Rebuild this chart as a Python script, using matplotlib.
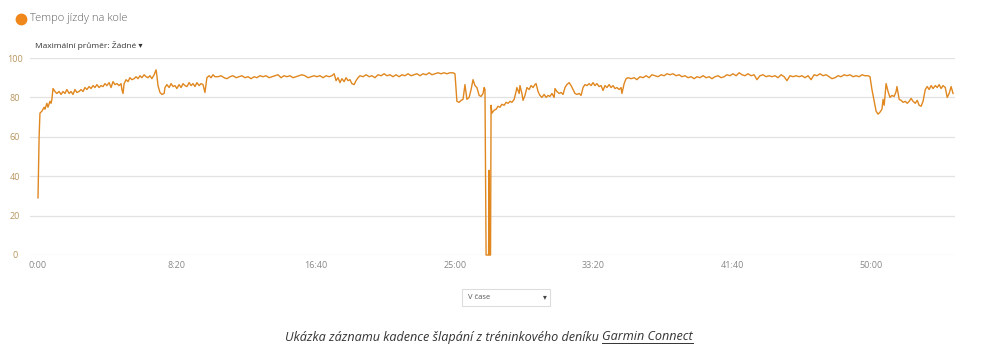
import matplotlib
matplotlib.use("Agg")
import matplotlib.pyplot as plt
from matplotlib.lines import Line2D
from matplotlib.patches import Rectangle

# ---- data (elapsed seconds, cadence rpm) ----
time_s = [
    0, 4, 7, 14, 22, 25, 32, 36, 43, 47, 50, 54, 61, 68, 76, 83, 90, 97, 104, 112,
    119, 126, 133, 140, 148, 155, 162, 169, 176, 184, 191, 198, 205, 212, 220, 227,
    234, 241, 248, 256, 263, 270, 277, 284, 292, 299, 302, 306, 310, 317, 324, 331,
    338, 346, 353, 360, 367, 374, 382, 389, 396, 403, 410, 418, 425, 428, 432, 439,
    446, 454, 457, 464, 472, 479, 486, 493, 500, 508, 515, 522, 529, 536, 544, 551,
    558, 565, 572, 580, 587, 594, 601, 608, 616, 623, 630, 637, 648, 659, 670, 680,
    691, 702, 713, 724, 734, 745, 756, 767, 778, 788, 799, 810, 821, 832, 842, 853,
    864, 875, 886, 896, 907, 918, 929, 940, 950, 961, 972, 983, 994, 1004, 1015, 1026,
    1037, 1048, 1058, 1066, 1073, 1080, 1087, 1094, 1102, 1109, 1116, 1123, 1130, 1138,
    1145, 1152, 1159, 1170, 1181, 1192, 1202, 1213, 1224, 1235, 1246, 1256, 1267, 1278,
    1289, 1300, 1310, 1321, 1332, 1343, 1354, 1364, 1375, 1386, 1397, 1408, 1418, 1429,
    1440, 1451, 1462, 1472, 1483, 1494, 1501, 1505, 1508, 1516, 1523, 1530, 1537, 1544,
    1552, 1559, 1566, 1573, 1580, 1588, 1595, 1602, 1606, 1609, 1613, 1622, 1624, 1625,
    1629, 1631, 1634, 1642, 1649, 1656, 1663, 1670, 1678, 1685, 1692, 1699, 1706, 1714,
    1721, 1724, 1732, 1735, 1742, 1746, 1753, 1760, 1768, 1775, 1782, 1789, 1793, 1800,
    1807, 1814, 1822, 1829, 1836, 1843, 1850, 1858, 1861, 1868, 1876, 1883, 1890, 1897,
    1904, 1912, 1919, 1926, 1933, 1940, 1948, 1955, 1962, 1969, 1976, 1984, 1991, 1998,
    2005, 2012, 2020, 2027, 2034, 2041, 2048, 2056, 2063, 2070, 2077, 2084, 2092, 2099,
    2102, 2110, 2117, 2124, 2135, 2146, 2156, 2167, 2178, 2189, 2200, 2210, 2221, 2232,
    2243, 2254, 2264, 2275, 2286, 2297, 2308, 2318, 2329, 2340, 2351, 2362, 2372, 2383,
    2394, 2405, 2416, 2426, 2437, 2448, 2459, 2470, 2480, 2491, 2502, 2513, 2524, 2534,
    2545, 2556, 2567, 2578, 2588, 2599, 2610, 2621, 2632, 2642, 2653, 2664, 2675, 2686,
    2696, 2707, 2718, 2729, 2740, 2750, 2761, 2772, 2783, 2794, 2804, 2815, 2826, 2837,
    2848, 2858, 2869, 2880, 2891, 2902, 2912, 2923, 2934, 2945, 2956, 2966, 2977, 2988,
    2995, 3002, 3010, 3017, 3024, 3031, 3038, 3042, 3046, 3053, 3060, 3067, 3074, 3082,
    3089, 3092, 3100, 3107, 3114, 3122, 3129, 3136, 3143, 3150, 3158, 3165, 3172, 3179,
    3186, 3194, 3201, 3208, 3215, 3222, 3230, 3237, 3244, 3251, 3258, 3266, 3273, 3280,
    3287, 3294,
]
cadence = [
    29, 60, 72, 73, 75, 74, 77, 75, 78, 77, 79, 84.5, 83, 82, 83, 81.5, 83, 82, 84, 82,
    83, 81.5, 84, 82.5, 83, 84, 83, 85, 84, 85.5, 84.5, 86, 85, 86.5, 85, 86,
    85.5, 87, 86, 87.5, 85, 88, 86.5, 87, 86, 87, 84, 82, 87, 89, 88, 90,
    89, 89.5, 90.5, 89.5, 91, 90, 91.5, 90.5, 90, 91, 89.5, 91.5, 94, 91, 86, 82.5,
    81.5, 82, 85, 86.5, 85, 87, 85.5, 86, 84.5, 86.5, 85, 87, 86, 85.5, 87.5, 86,
    87, 85.5, 87.5, 86, 87, 86.5, 82.5, 90, 91, 90, 91.5, 90.5, 90.5, 91, 90, 89.5,
    90.5, 91, 90, 90.5, 91, 90, 90.5, 89.5, 90.5, 90, 91, 90.5, 91, 90, 90.5, 91,
    91.5, 90, 91, 90.5, 91, 90, 90.5, 91, 91.5, 91, 90, 90.5, 91, 90.5, 91, 90,
    91, 90.5, 91, 92, 88.5, 90, 87.5, 89.5, 88, 90, 88.5, 89, 87, 86.5,
    88.5, 90, 91, 90.5, 91.5, 90.5, 91, 90, 91.5, 91, 92, 91, 91.5, 90.5,
    91.5, 90.5, 91.5, 91, 92, 91, 91.5, 92, 91, 92, 91.5, 92.5, 91.5, 92,
    92.5, 92, 92.5, 92, 92.5, 92.5, 92, 84, 78, 77.5, 78.5, 79, 86.5, 79,
    80, 84, 89, 86, 85, 81, 80.5, 82, 85, 84, 0, 0, 43, 0,
    0, 76, 72, 73.5, 74, 75.5, 75, 76.5, 76, 77.5, 77, 78, 77.5, 79,
    83, 85, 82, 86, 82, 78.5, 81, 85, 84, 86, 85, 86.5, 87, 83,
    81, 80, 81.5, 80, 81, 80.5, 82, 80, 84.5, 83, 82, 82.5, 81.5, 85,
    86.5, 87.5, 86, 84, 82, 81.5, 82, 81, 85, 86.5, 86, 87, 86, 87.5,
    86, 87, 85.5, 86, 83.5, 86, 85, 86.5, 85, 86, 84.5, 85, 84, 85,
    82, 87, 89.5, 90, 89.5, 90, 89, 90.5, 90, 91, 90, 91.5, 91, 90.5,
    91.5, 91, 92, 91.5, 92, 91, 91.5, 90.5, 91, 90, 90.5, 89.5, 90.5, 90,
    91, 90, 90.5, 89.5, 90.5, 91, 90, 90.5, 91.5, 91, 92, 91, 92.5, 91.5,
    91, 92, 91, 91.5, 89, 91, 91.5, 90.5, 91, 90.5, 91, 90, 91.5, 90.5,
    88.5, 91, 90.5, 91, 90.5, 91, 90, 91, 89, 91.5, 91, 92, 91, 91.5,
    90.5, 89.5, 90, 91, 90.5, 91.5, 91, 91.5, 90.5, 91, 90.5, 91.5, 91, 91,
    90.5, 84, 78, 73, 71.5, 72.5, 74, 79, 76, 87, 83, 80, 81, 80.5,
    83, 85.5, 79, 78.5, 77.5, 78, 77, 78, 79.5, 78, 77, 78.5, 76, 75.5,
    78, 84, 85.5, 84, 86, 84.5, 86, 85, 86.5, 84.5, 86, 85, 80, 82,
    85.5, 82,
]
y_ticks = [0, 20, 40, 60, 80, 100]
x_ticks = [0, 500, 1000, 1500, 2000, 2500, 3000]
x_tick_labels = ["0:00", "8:20", "16:40", "25:00", "33:20", "41:40", "50:00"]

title_text = "Tempo jízdy na kole"
sub_text = "Maximální průměr: Žádné ▾"
dropdown_text = "V čase"
caption_prefix = "Ukázka záznamu kadence šlapání z tréninkového deníku"
caption_link = "Garmin Connect"

W, H = 1002, 353
fig = plt.figure(figsize=(W / 100, H / 100), dpi=100)
fig.patch.set_facecolor("white")
FONT = ["Open Sans", "DejaVu Sans"]


def fx(px):
    return px / W


def fy(py):
    return 1 - py / H


ax = fig.add_axes([fx(30), fy(255), fx(955) - fx(30), fy(58) - fy(255)])
ax.plot(time_s, cadence, color="#e0871f", lw=1.0, clip_on=False, solid_joinstyle="round")
ax.set_xlim(-28.8, 3301)
ax.set_ylim(0, 100)
for s in ax.spines.values():
    s.set_visible(False)
ax.set_yticks(y_ticks)
ax.set_yticklabels([str(v) for v in y_ticks], fontsize=6.5, color="#b8955e", family=FONT)
for lab in ax.get_yticklabels():
    lab.set_horizontalalignment("center")
ax.tick_params(axis="y", length=0, pad=11)
ax.set_xticks(x_ticks)
ax.set_xticklabels(x_tick_labels, fontsize=6.5, color="#888888", family=FONT)
ax.tick_params(axis="x", length=0, pad=4)
ax.grid(axis="y", color="#e2e2e2", lw=0.9)
ax.set_axisbelow(True)
ax.set_facecolor("none")

# header
fig.add_artist(Line2D([fx(20.5)], [fy(18.5)], marker="o", markersize=7.5,
                      color="#f0871a", transform=fig.transFigure))
fig.text(fx(30), fy(18.5), title_text, fontsize=8.0, color="#606060", family=FONT,
         va="center", ha="left", fontweight="light")
fig.text(fx(35), fy(45), sub_text, fontsize=6.0, color="#333333", family=FONT,
         va="center", ha="left")

# dropdown
fig.add_artist(Rectangle((fx(462), fy(306)), fx(550) - fx(462), fy(289) - fy(306),
                         transform=fig.transFigure, fc="white", ec="#dddddd", lw=0.8))
fig.text(fx(468), fy(297.5), dropdown_text, fontsize=5.5, color="#555555", family=FONT,
         va="center", ha="left")
fig.text(fx(545), fy(297), "▾", fontsize=5.5, color="#444444", family=["DejaVu Sans"],
         va="center", ha="center")

# caption
t1 = fig.text(fx(285), fy(337), caption_prefix, fontsize=9.1, color="#333333",
              family=FONT, style="italic", va="center", ha="left")
fig.canvas.draw()
r = fig.canvas.get_renderer()
bb1 = t1.get_window_extent(r)
t2 = fig.text((bb1.x1 + 3.5) / W, fy(337), caption_link, fontsize=9.1, color="#333333",
              family=FONT, style="italic", va="center", ha="left")
fig.canvas.draw()
bb2 = t2.get_window_extent(r)
fig.add_artist(Line2D([bb2.x0 / W, bb2.x1 / W], [(bb2.y0 + 0.5) / H] * 2,
                      color="#333333", lw=0.7, transform=fig.transFigure))

fig.savefig("out.png", dpi=100, facecolor="white")
